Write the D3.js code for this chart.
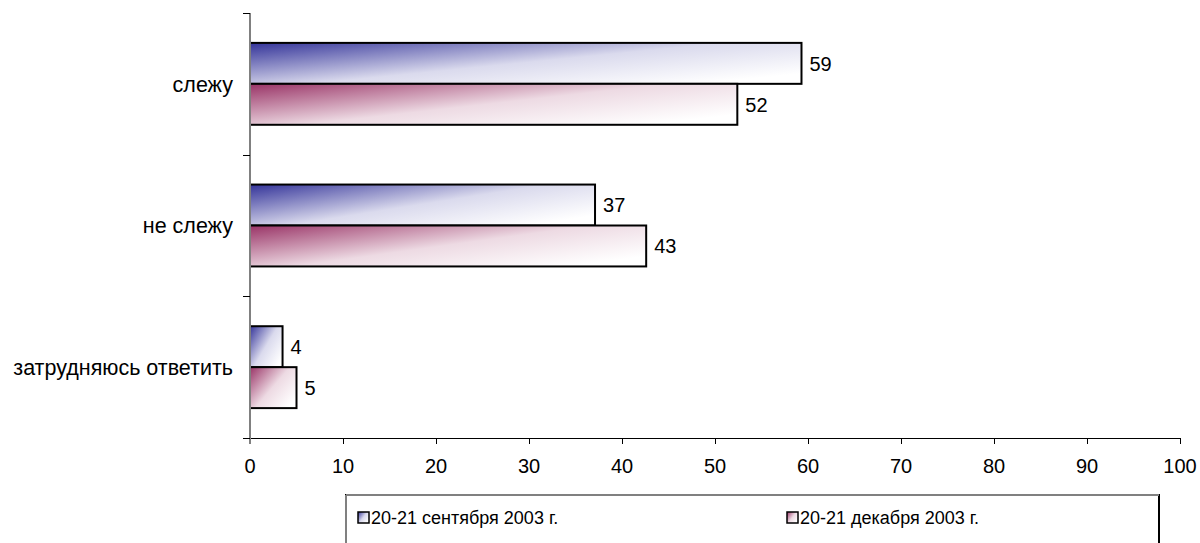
<!DOCTYPE html>
<html>
<head>
<meta charset="utf-8">
<script src="https://cdn.jsdelivr.net/npm/d3@7"></script>
<style>
  html, body { margin: 0; padding: 0; background: #fff; }
  svg { display: block; font-family: "Liberation Sans", Arial, sans-serif; }
</style>
</head>
<body>
<svg id="chart" width="1200" height="543"></svg>
<script>
// ---- data ----
const categories = ["слежу", "не слежу", "затрудняюсь ответить"];
const seriesNames = ["20-21 сентября 2003 г.", "20-21 декабря 2003 г."];
const septValues = [59.3, 37.1, 3.5];
const decValues = [52.4, 42.6, 5.0];
const xTicks = [0, 10, 20, 30, 40, 50, 60, 70, 80, 90, 100];

const seriesValues = [septValues, decValues];
const seriesColors = ["#333399", "#993366"];

const svg = d3.select("#chart");
const plot = { left: 250, right: 1180, top: 13, bottom: 438 };

// gradients
const defs = svg.append("defs");
seriesColors.forEach((c, i) => {
  const g = defs.append("linearGradient")
    .attr("id", "grad" + i)
    .attr("x1", 0).attr("y1", 0).attr("x2", 1).attr("y2", 0.75);
  g.append("stop").attr("offset", "0%").attr("stop-color", c);
  g.append("stop").attr("offset", "55%").attr("stop-color", d3.interpolateRgb(c, "#ffffff")(0.82));
  g.append("stop").attr("offset", "100%").attr("stop-color", "#ffffff");
});

const x = d3.scaleLinear().domain([0, 100]).range([plot.left, plot.right]);
const y0 = d3.scaleBand().domain(categories).range([plot.top, plot.bottom]).paddingInner(0).paddingOuter(0);
const y1 = d3.scaleBand().domain(seriesNames).range([0, y0.bandwidth()]).paddingInner(0).paddingOuter(0.73);

const fmt = v => v.toFixed(0);

// bars
categories.forEach((cat, ci) => {
  seriesNames.forEach((s, si) => {
    const v = seriesValues[si][ci];
    const yy = y0(cat) + y1(s);
    svg.append("rect")
      .attr("x", x(0))
      .attr("y", yy)
      .attr("width", x(v) - x(0))
      .attr("height", y1.bandwidth())
      .attr("fill", "url(#grad" + si + ")")
      .attr("stroke", "#000")
      .attr("stroke-width", 2);
    svg.append("text")
      .attr("x", x(v) + 8)
      .attr("y", yy + y1.bandwidth() / 2)
      .attr("dy", "0.36em")
      .attr("font-size", 20)
      .attr("fill", "#000")
      .text(fmt(v));
  });
});

// x axis
svg.append("line")
  .attr("x1", plot.left - 7).attr("x2", plot.right)
  .attr("y1", plot.bottom + 0.5).attr("y2", plot.bottom + 0.5)
  .attr("stroke", "#000").attr("stroke-width", 1);
xTicks.forEach(t => {
  svg.append("line")
    .attr("x1", Math.round(x(t)) + 0.5).attr("x2", Math.round(x(t)) + 0.5)
    .attr("y1", plot.bottom).attr("y2", plot.bottom + 6)
    .attr("stroke", "#000");
  svg.append("text")
    .attr("x", x(t))
    .attr("y", plot.bottom + 35)
    .attr("text-anchor", "middle")
    .attr("font-size", 20)
    .text(t);
});

// y axis
svg.append("line")
  .attr("x1", plot.left).attr("x2", plot.left)
  .attr("y1", plot.top).attr("y2", plot.bottom + 6)
  .attr("stroke", "#808080").attr("stroke-width", 2);
const yTickPos = categories.map(c => y0(c)).concat([plot.bottom]);
yTickPos.forEach(p => {
  svg.append("line")
    .attr("x1", plot.left - 7).attr("x2", plot.left)
    .attr("y1", Math.round(p) + 0.5).attr("y2", Math.round(p) + 0.5)
    .attr("stroke", "#000");
});
categories.forEach(c => {
  svg.append("text")
    .attr("x", 233)
    .attr("y", y0(c) + y0.bandwidth() / 2)
    .attr("dy", "0.36em")
    .attr("text-anchor", "end")
    .attr("font-size", 21.5)
    .text(c);
});

// legend
const lg = svg.append("g");
const lx = 346, ly = 495, lw = 813, lh = 60;
lg.append("rect").attr("x", lx).attr("y", ly).attr("width", lw).attr("height", lh)
  .attr("fill", "#fff").attr("stroke", "#000").attr("stroke-width", 2);
lg.append("line").attr("x1", lx).attr("x2", lx + lw).attr("y1", ly).attr("y2", ly)
  .attr("stroke", "#808080").attr("stroke-width", 2);
lg.append("line").attr("x1", lx).attr("x2", lx).attr("y1", ly).attr("y2", ly + lh)
  .attr("stroke", "#808080").attr("stroke-width", 2);
const legendX = [358, 787];
seriesNames.forEach((s, i) => {
  lg.append("rect").attr("x", legendX[i]).attr("y", 512).attr("width", 11).attr("height", 11)
    .attr("fill", "url(#grad" + i + ")").attr("stroke", "#000").attr("stroke-width", 1.5);
  lg.append("text").attr("x", legendX[i] + 13).attr("y", 518).attr("dy", "0.36em")
    .attr("font-size", 18).text(s);
});
</script>
</body>
</html>
